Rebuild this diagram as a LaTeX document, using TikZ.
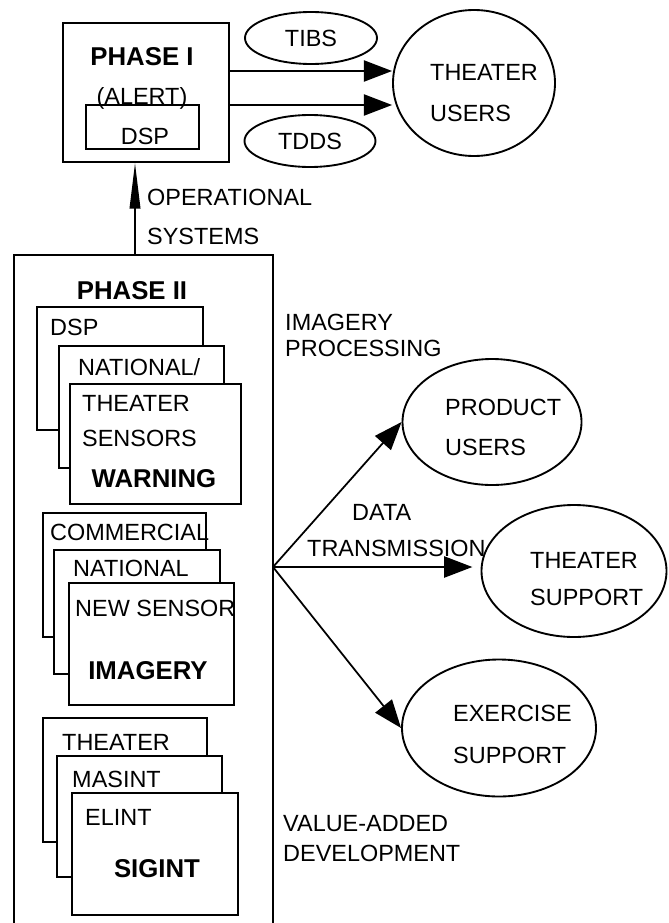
\documentclass[tikz,border=0pt]{standalone}
\usepackage{fontspec}
\setmainfont{Liberation Sans}
\usetikzlibrary{shapes.geometric,arrows.meta,fit}
\tikzset{
  lbl/.style={inner sep=0pt, text depth=0pt, anchor=west, font=\fontsize{20}{24}\selectfont},
  head/.style={inner sep=0pt, text depth=0pt, font=\fontsize{22}{26}\selectfont\bfseries},
  card/.style={draw, fill=white, line width=1.6pt, inner sep=0pt},
  oval/.style={draw, ellipse, line width=1.6pt, inner sep=0pt, font=\fontsize{20}{24}\selectfont},
  bigtip/.style={line width=1.5pt, -{Triangle[length=24pt,width=18pt]}},
}
\begin{document}
\begin{tikzpicture}[x=0.03cm, y=-0.03cm]
\useasboundingbox (0,0) rectangle (668,923);
% phase I
\node[card, fit={(63,23) (229,162)}] (phase1) {};
\node[card, fit={(86,105) (199,149)}] (dspbox) {};
\node[head] (ph1) at (142,57) {PHASE I};
\node[lbl, anchor=center] (alert) at (142,96) {(ALERT)};
\node[lbl, anchor=center] (dsptxt) at (145,136) {DSP};
\node[oval, minimum width=3.96cm, minimum height=1.56cm] (tibs) at (311,38) {TIBS};
\node[oval, minimum width=3.93cm, minimum height=1.56cm] (tdds) at (310,141) {TDDS};
\node[oval, minimum width=4.86cm, minimum height=4.38cm] (tusers) at (474,83) {};
\node[lbl] (tu1) at (430,72) {THEATER};
\node[lbl] (tu2) at (430,113) {USERS};
\coordinate (hi) at (0,71);
\coordinate (lo) at (0,105);
\draw[bigtip] (phase1.east |- hi) -- (tusers.west |- hi);
\draw[bigtip] (phase1.east |- lo) -- (tusers.west |- lo);
% phase II
\coordinate (opsrc) at (135,255);
\draw[line width=1.8pt] (14,923) -- (14,255) -- (273,255) -- (273,923);
\draw[line width=1.6pt, -{Triangle[length=39pt,width=9pt]}] (opsrc) -- (opsrc |- phase1.south);
\node[lbl] (op1) at (147,197) {OPERATIONAL};
\node[lbl] (op2) at (147,236) {SYSTEMS};
\node[head] (ph2) at (132,290) {PHASE II};
% warning
\node[card, fit={(37,307) (203,430)}] (w1) {};
\node[lbl] (w1t) at (50,327) {DSP};
\node[card, fit={(59,346) (224,468)}] (w2) {};
\node[lbl] (w2t) at (78,367) {NATIONAL/};
\node[card, fit={(70,384) (241,504)}] (w3) {};
\node[lbl] (w3a) at (82,403) {THEATER};
\node[lbl] (w3b) at (82,438) {SENSORS};
\node[head] (warn) at (154,478) {WARNING};
% imagery
\node[card, fit={(43,513) (206,637)}] (i1) {};
\node[lbl] (i1t) at (50,532) {COMMERCIAL};
\node[card, fit={(54,550) (220,674)}] (i2) {};
\node[lbl] (i2t) at (73,568) {NATIONAL};
\node[card, fit={(69,583) (234,705)}] (i3) {};
\node[lbl] (i3t) at (75,608) {NEW SENSOR};
\node[head] (imag) at (148,670) {IMAGERY};
% sigint
\node[card, fit={(43,718) (207,842)}] (s1) {};
\node[lbl] (s1t) at (62,742) {THEATER};
\node[card, fit={(57,756) (222,877)}] (s2) {};
\node[lbl] (s2t) at (72,779) {MASINT};
\node[card, fit={(72,793) (238,915)}] (s3) {};
\node[lbl] (s3t) at (85,817) {ELINT};
\node[head] (sig) at (157,868) {SIGINT};
% right side
\node[lbl] (ip1) at (285,322) {IMAGERY};
\node[lbl] (ip2) at (285,348) {PROCESSING};
\node[lbl] (va1) at (283,823) {VALUE-ADDED};
\node[lbl] (va2) at (283,853) {DEVELOPMENT};
\node[oval, minimum width=5.37cm, minimum height=3.78cm] (pusers) at (492,422) {};
\node[lbl] (pu1) at (445,407) {PRODUCT};
\node[lbl] (pu2) at (445,447) {USERS};
\node[oval, minimum width=5.55cm, minimum height=3.96cm] (tsupport) at (574,571) {};
\node[lbl] (ts1) at (530,560) {THEATER};
\node[lbl] (ts2) at (530,597) {SUPPORT};
\node[oval, minimum width=5.82cm, minimum height=4.11cm] (esupport) at (499,728) {};
\node[lbl] (es1) at (453,713) {EXERCISE};
\node[lbl] (es2) at (453,755) {SUPPORT};
\coordinate (fan) at (273,567);
\draw[bigtip] (fan) -- (pusers.west);
\draw[bigtip, shorten >=7pt] (fan) -- (fan -| tsupport.west);
\draw[bigtip] (fan) -- (esupport.west);
\node[lbl] (dt1) at (352,512) {DATA};
\node[lbl] (dt2) at (307,548) {TRANSMISSION};
\end{tikzpicture}
\end{document}
